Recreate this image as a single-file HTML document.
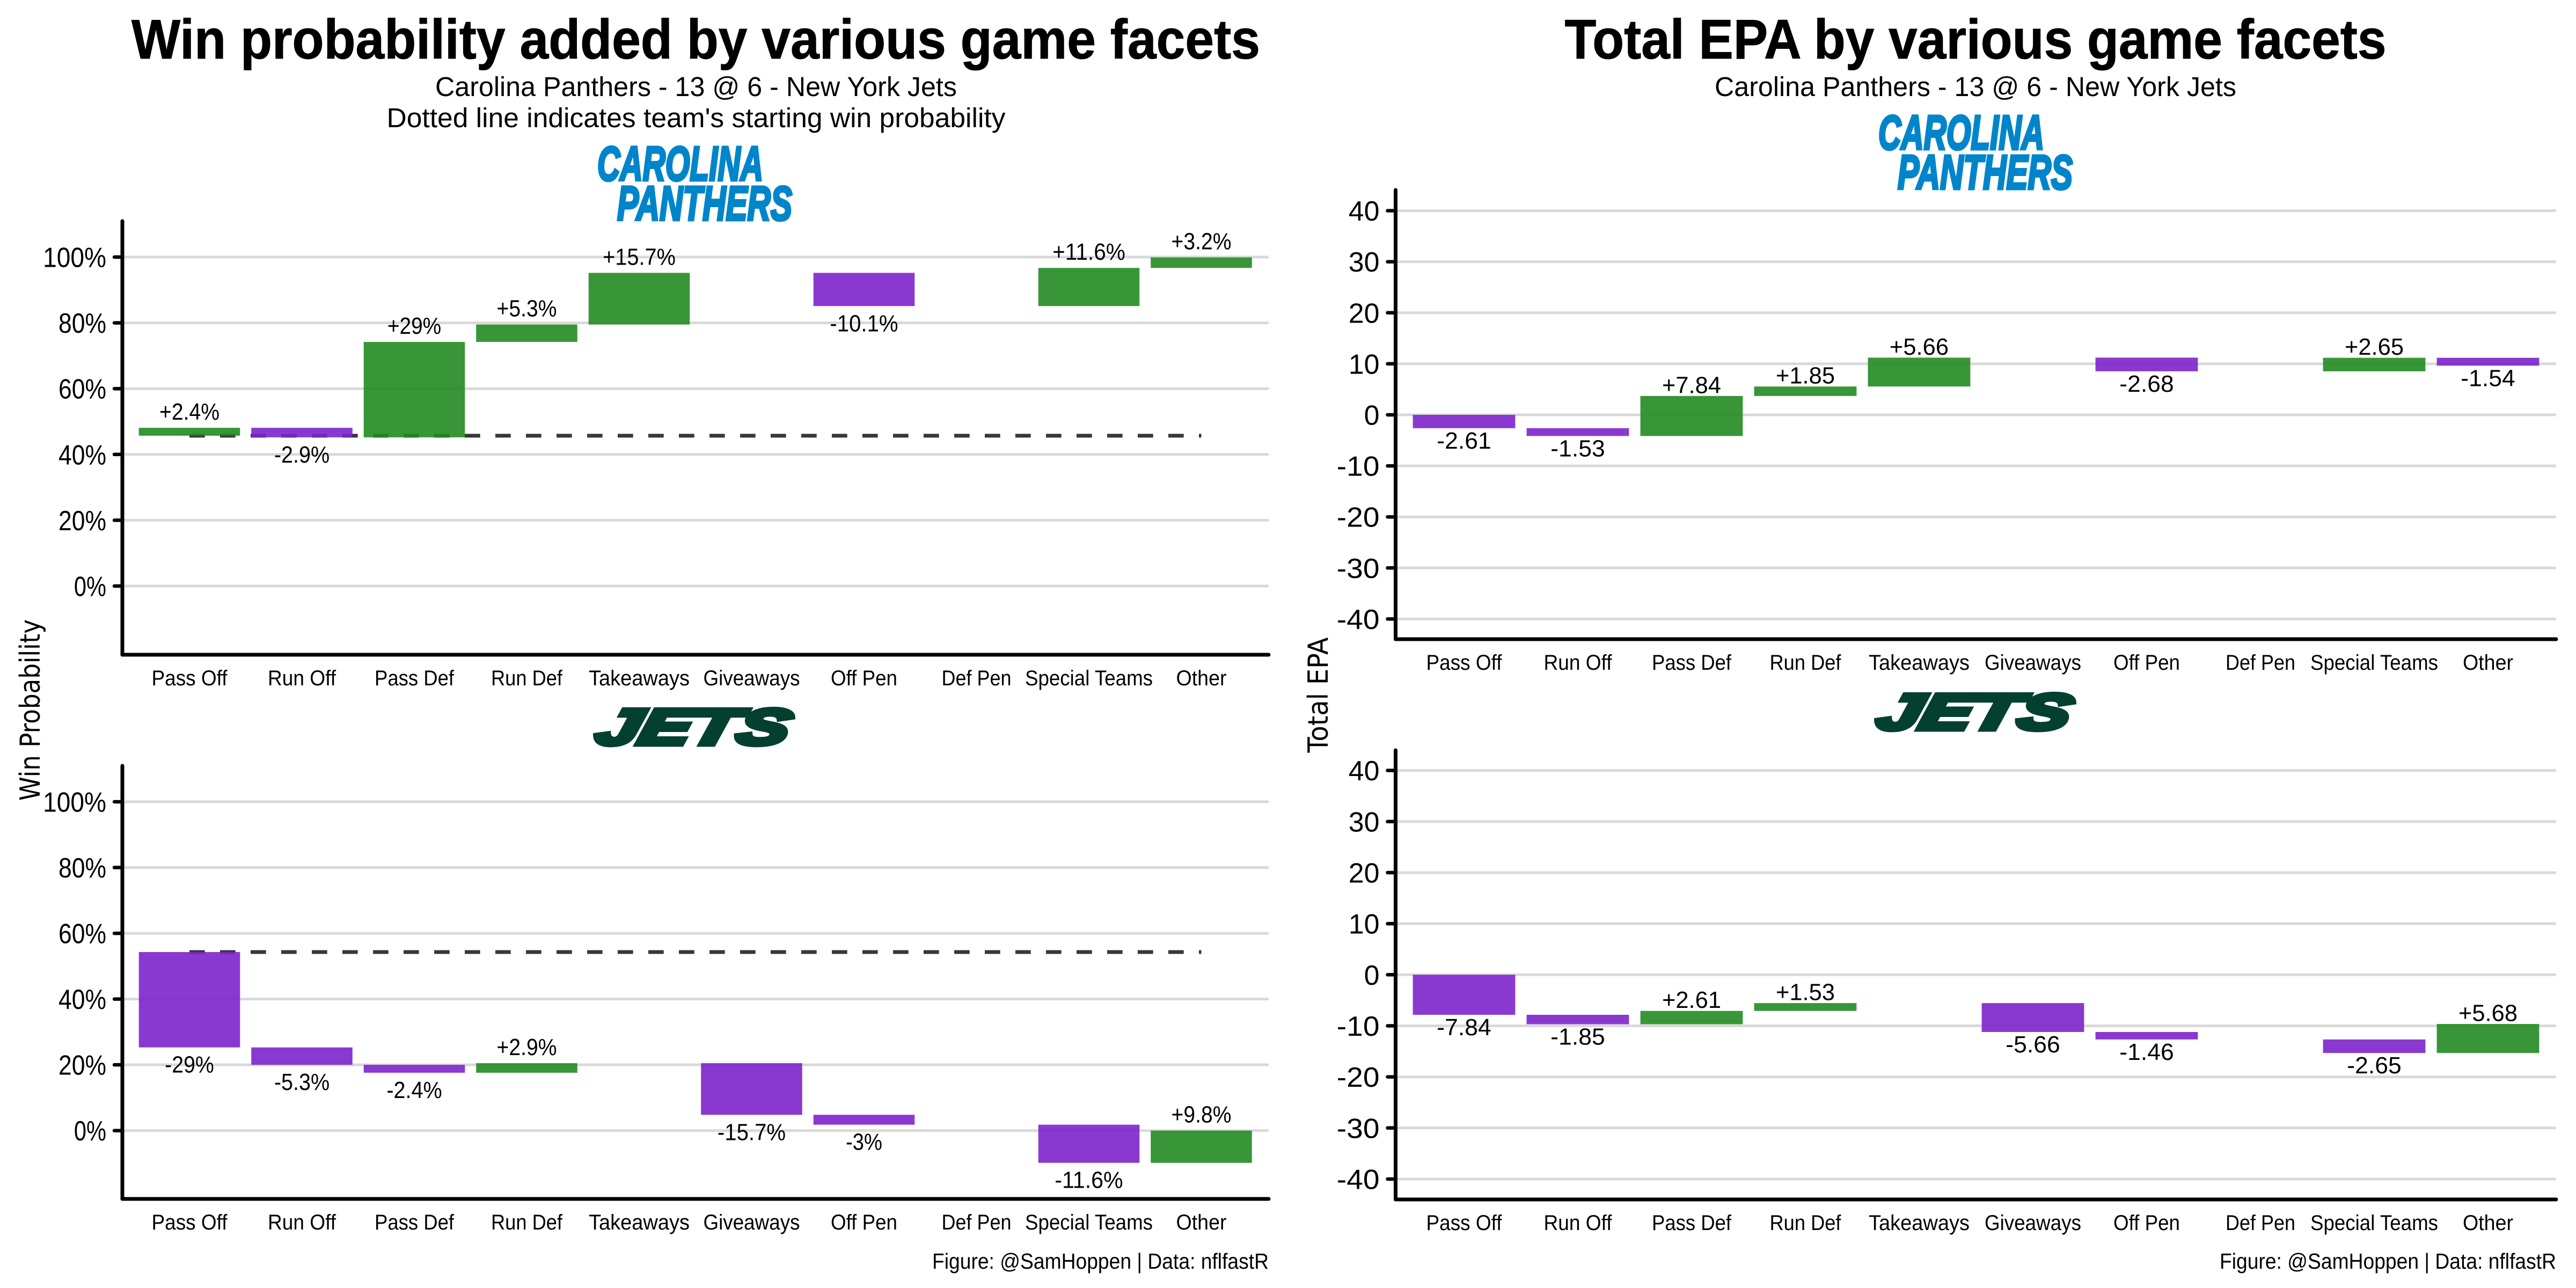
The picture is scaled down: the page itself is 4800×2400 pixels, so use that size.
<!DOCTYPE html>
<html lang="en">
<head>
<meta charset="utf-8">
<title>Win probability and EPA by game facets</title>
<style>
  html, body { margin: 0; padding: 0; background: #fff; }
  svg { display: block; }
  text { font-family: "Liberation Sans", sans-serif; fill: #000; }
  .title { font-weight: 700; font-size: 104px; text-anchor: middle; stroke: #000; stroke-width: 1; }
  .sub { font-size: 51px; text-anchor: middle; }
  .cap { font-size: 41px; text-anchor: end; }
  .ytitle { font-family: "DejaVu Sans", sans-serif; font-size: 52px; text-anchor: middle; }
  .logo { font-weight: 700; font-style: italic; }
</style>
</head>
<body>
<svg id="chart" xmlns="http://www.w3.org/2000/svg" width="4800" height="2400" viewBox="0 0 4800 2400">
  <rect x="0" y="0" width="4800" height="2400" fill="#fff"/>

  <text class="title" x="1296.5" y="109" textLength="2103" lengthAdjust="spacingAndGlyphs">Win probability added by various game facets</text>
  <text class="sub" x="1297" y="179" textLength="972" lengthAdjust="spacingAndGlyphs">Carolina Panthers - 13 @ 6 - New York Jets</text>
  <text class="sub" x="1297" y="237" textLength="1153" lengthAdjust="spacingAndGlyphs">Dotted line indicates team's starting win probability</text>

  <text class="title" x="3681" y="109" textLength="1531" lengthAdjust="spacingAndGlyphs">Total EPA by various game facets</text>
  <text class="sub" x="3681" y="179" textLength="972" lengthAdjust="spacingAndGlyphs">Carolina Panthers - 13 @ 6 - New York Jets</text>

  <text class="logo" x="1113" y="336" font-size="90" style="fill:#0085CA;stroke:#0085CA;stroke-width:5" textLength="309" lengthAdjust="spacingAndGlyphs">CAROLINA</text>
  <text class="logo" x="1150" y="410" font-size="90" style="fill:#0085CA;stroke:#0085CA;stroke-width:5" textLength="326" lengthAdjust="spacingAndGlyphs">PANTHERS</text>
  <text class="logo" x="3500" y="278" font-size="90" style="fill:#0085CA;stroke:#0085CA;stroke-width:5" textLength="309" lengthAdjust="spacingAndGlyphs">CAROLINA</text>
  <text class="logo" x="3536" y="352" font-size="90" style="fill:#0085CA;stroke:#0085CA;stroke-width:5" textLength="326" lengthAdjust="spacingAndGlyphs">PANTHERS</text>

  <text class="logo" transform="translate(1106 1387) skewX(-14)" x="0" y="0" font-size="94" style="fill:#03402F;stroke:#03402F;stroke-width:9" textLength="358" lengthAdjust="spacingAndGlyphs">JETS</text>
  <text class="logo" transform="translate(3493 1359) skewX(-14)" x="0" y="0" font-size="94" style="fill:#03402F;stroke:#03402F;stroke-width:9" textLength="358" lengthAdjust="spacingAndGlyphs">JETS</text>

  <text class="ytitle" transform="translate(74 1323) rotate(-90)" textLength="338" lengthAdjust="spacingAndGlyphs">Win Probability</text>
  <text class="ytitle" transform="translate(2474 1295) rotate(-90)" textLength="215" lengthAdjust="spacingAndGlyphs">Total EPA</text>

  <text class="cap" x="2364" y="2364" textLength="627" lengthAdjust="spacingAndGlyphs">Figure: @SamHoppen | Data: nflfastR</text>
  <text class="cap" x="4763" y="2364" textLength="627" lengthAdjust="spacingAndGlyphs">Figure: @SamHoppen | Data: nflfastR</text>

  <g id="panels"></g>
</svg>

<script>
// ---- Data ----
const categories = ['Pass Off', 'Run Off', 'Pass Def', 'Run Def', 'Takeaways', 'Giveaways', 'Off Pen', 'Def Pen', 'Special Teams', 'Other'];

const carolinaWpStart = 45.7;
const carolinaWpDeltas = [2.4, -2.9, 29, 5.3, 15.7, null, -10.1, null, 11.6, 3.2];

const jetsWpStart = 54.3;
const jetsWpDeltas = [-29, -5.3, -2.4, 2.9, null, -15.7, -3, null, -11.6, 9.8];

const carolinaEpaStart = 0;
const carolinaEpaDeltas = [-2.61, -1.53, 7.84, 1.85, 5.66, null, -2.68, null, 2.65, -1.54];

const jetsEpaStart = 0;
const jetsEpaDeltas = [-7.84, -1.85, 2.61, 1.53, null, -5.66, -1.46, null, -2.65, 5.68];

const wpTicks = [0, 20, 40, 60, 80, 100];
const epaTicks = [-40, -30, -20, -10, 0, 10, 20, 30, 40];

// ---- Presentation ----
const NS = 'http://www.w3.org/2000/svg';
const GOOD = '#228B22';
const BAD = '#7D24CB';
const labelWidthPx = { 'Pass Off': 141, 'Run Off': 127, 'Pass Def': 148, 'Run Def': 133, 'Takeaways': 188, 'Giveaways': 180, 'Off Pen': 124, 'Def Pen': 130, 'Special Teams': 238, 'Other': 94 };
const glyphEm = { '.': 0.27, '-': 0.42, '+': 0.62, '%': 0.6 };

function fittedWidth(str, size) {
  let w = 0;
  for (const ch of str) w += (glyphEm[ch] || 0.556) * size;
  return w;
}
function make(parent, tag, attrs, content) {
  const el = document.createElementNS(NS, tag);
  for (const k in attrs) el.setAttribute(k, attrs[k]);
  if (content !== undefined) el.textContent = content;
  parent.appendChild(el);
  return el;
}

function drawPanel(cfg) {
  const root = document.getElementById('panels');
  const g = make(root, 'g', {});
  
  

  const yScale = v => cfg.y0 - v * cfg.unit;
  const xScale = i => cfg.x1 + i * cfg.step;
  const barW = cfg.step * 0.9;

  // gridlines, ticks and tick labels
  cfg.ticks.forEach(t => {
    const grid = make(g, 'line', { x1: cfg.axisX, x2: cfg.right, y1: yScale(t), y2: yScale(t), stroke: '#D9D9D9', 'stroke-width': 5 });
    
    

    const tick = make(g, 'line', { x1: cfg.axisX - 15, x2: cfg.axisX, y1: yScale(t), y2: yScale(t), stroke: '#000', 'stroke-width': 6.5, 'stroke-linecap': 'round' });
    
    

    const str = t + cfg.suffix;
    const lab = make(g, 'text', { x: cfg.axisX - 30, y: yScale(t) + 18.5, 'font-size': 52, 'text-anchor': 'end', textLength: fittedWidth(str, 52).toFixed(1), lengthAdjust: 'spacingAndGlyphs' }, str);
    
    
  });

  // starting win probability reference line (below the bars)
  if (cfg.showStart) {
    const dash = make(g, 'line', { x1: xScale(0), x2: xScale(categories.length - 1), y1: yScale(cfg.start), y2: yScale(cfg.start), stroke: '#383838', 'stroke-width': 7, 'stroke-dasharray': '28.7 28.3' });
    
    
  }

  // waterfall bars and value labels
  let running = cfg.start;
  cfg.deltas.forEach((d, i) => {
    if (d === null) return;
    const before = running;
    running = running + d;
    const top = yScale(Math.max(before, running));
    const bottom = yScale(Math.min(before, running));
    const bar = make(g, 'rect', { x: xScale(i) - barW / 2, y: top, width: barW, height: bottom - top, fill: d > 0 ? GOOD : BAD, 'fill-opacity': 0.9 });
    
    

    const str = (d > 0 ? '+' : '') + d + cfg.suffix;
    const ly = d > 0 ? top - cfg.gapAbove : bottom + cfg.gapBelow;
    const val = make(g, 'text', { x: xScale(i), y: ly, 'font-size': 44, 'text-anchor': 'middle', textLength: fittedWidth(str, 43).toFixed(1), lengthAdjust: 'spacingAndGlyphs' }, str);
    
    
  });

  // category labels
  categories.forEach((c, i) => {
    const lab = make(g, 'text', { x: xScale(i), y: cfg.bottom + 57, 'font-size': 40, 'text-anchor': 'middle', textLength: labelWidthPx[c], lengthAdjust: 'spacingAndGlyphs' }, c);
    
    
  });

  // axis lines
  const yAxis = make(g, 'line', { x1: cfg.axisX, x2: cfg.axisX, y1: cfg.top + 3, y2: cfg.bottom, stroke: '#000', 'stroke-width': 7, 'stroke-linecap': 'round' });
  
  

  const xAxis = make(g, 'line', { x1: cfg.axisX, x2: cfg.right, y1: cfg.bottom, y2: cfg.bottom, stroke: '#000', 'stroke-width': 7, 'stroke-linecap': 'round' });
  
  
}

drawPanel({ name: 'panthers-win-probability-panel', deltas: carolinaWpDeltas, start: carolinaWpStart, showStart: true, ticks: wpTicks, suffix: '%',
  axisX: 228, right: 2364, top: 409, bottom: 1220, y0: 1092, unit: 6.13, x1: 353, step: 209.5, gapAbove: 15, gapBelow: 47 });
drawPanel({ name: 'jets-win-probability-panel', deltas: jetsWpDeltas, start: jetsWpStart, showStart: true, ticks: wpTicks, suffix: '%',
  axisX: 228, right: 2364, top: 1424, bottom: 2234, y0: 2106.7, unit: 6.127, x1: 353, step: 209.5, gapAbove: 15, gapBelow: 47 });
drawPanel({ name: 'panthers-epa-panel', deltas: carolinaEpaDeltas, start: carolinaEpaStart, showStart: false, ticks: epaTicks, suffix: '',
  axisX: 2600.5, right: 4763, top: 351, bottom: 1191, y0: 773, unit: 9.51, x1: 2728, step: 212, gapAbove: 5.5, gapBelow: 38 });
drawPanel({ name: 'jets-epa-panel', deltas: jetsEpaDeltas, start: jetsEpaStart, showStart: false, ticks: epaTicks, suffix: '',
  axisX: 2600.5, right: 4763, top: 1395, bottom: 2235, y0: 1816.3, unit: 9.516, x1: 2728, step: 212, gapAbove: 5.5, gapBelow: 38 });
</script>
</body>
</html>
